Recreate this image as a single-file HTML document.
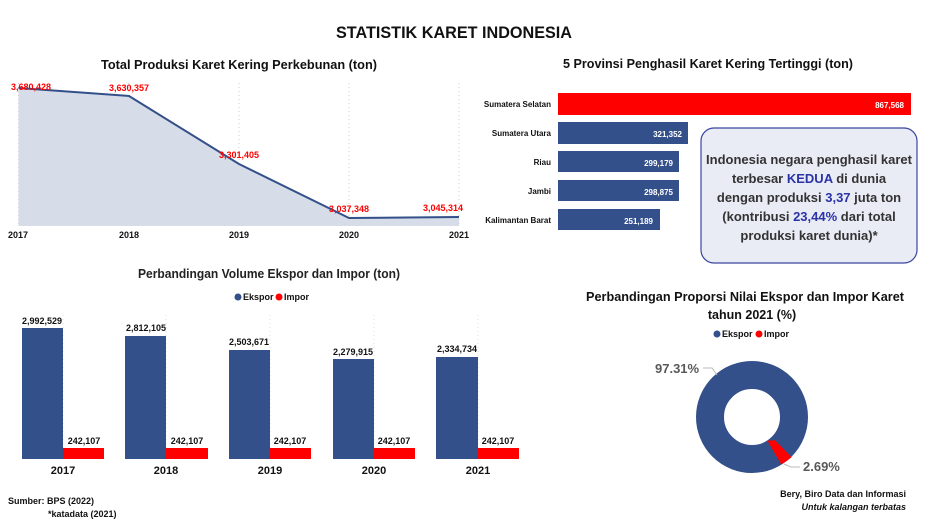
<!DOCTYPE html>
<html><head><meta charset="utf-8"><style>
body{margin:0;background:#fff;}
svg{display:block;font-family:"Liberation Sans",sans-serif;}
</style></head><body>
<svg width="940" height="530" viewBox="0 0 940 530" xmlns="http://www.w3.org/2000/svg">
<rect width="940" height="530" fill="#fff"/>
<text x="454" y="38" text-anchor="middle" font-size="17" font-weight="bold" fill="#111" textLength="236" lengthAdjust="spacingAndGlyphs">STATISTIK KARET INDONESIA</text>

<text x="239" y="69" text-anchor="middle" font-size="13" font-weight="bold" fill="#111" textLength="276" lengthAdjust="spacingAndGlyphs">Total Produksi Karet Kering Perkebunan (ton)</text>
<g stroke="#ccc" stroke-dasharray="1,3" stroke-width="1">
<line x1="18.5" y1="83" x2="18.5" y2="226"/><line x1="129" y1="83" x2="129" y2="226"/><line x1="239" y1="83" x2="239" y2="226"/><line x1="349" y1="83" x2="349" y2="226"/><line x1="459" y1="83" x2="459" y2="226"/>
</g>
<polygon points="18.5,88 129,96 239,164 349,218 459,217 459,226 18.5,226" fill="#d6dce8"/>
<polyline points="18.5,88 129,96 239,164 349,218 459,217" fill="none" stroke="#34508a" stroke-width="2"/>
<g font-size="9" fill="#f00" font-weight="bold" text-anchor="middle">
<text x="31" y="90">3,680,428</text><text x="129" y="91">3,630,357</text><text x="239" y="158">3,301,405</text><text x="349" y="212">3,037,348</text><text x="443" y="211">3,045,314</text>
</g>
<g font-size="9" fill="#111" font-weight="bold" text-anchor="middle">
<text x="18" y="238">2017</text><text x="129" y="238">2018</text><text x="239" y="238">2019</text><text x="349" y="238">2020</text><text x="459" y="238">2021</text>
</g>

<text x="708" y="68" text-anchor="middle" font-size="13" font-weight="bold" fill="#111" textLength="290" lengthAdjust="spacingAndGlyphs">5 Provinsi Penghasil Karet Kering Tertinggi (ton)</text>
<rect x="558" y="93" width="353" height="22" fill="#f00"/>
<rect x="558" y="122" width="130" height="22" fill="#34508a"/>
<rect x="558" y="151" width="121" height="21" fill="#34508a"/>
<rect x="558" y="180" width="121" height="21" fill="#34508a"/>
<rect x="558" y="209" width="102" height="21" fill="#34508a"/>
<g font-size="8" font-weight="bold" fill="#111" text-anchor="end">
<text x="551" y="107">Sumatera Selatan</text><text x="551" y="136">Sumatera Utara</text><text x="551" y="165">Riau</text><text x="551" y="194">Jambi</text><text x="551" y="223">Kalimantan Barat</text>
</g>
<g font-size="8" font-weight="bold" fill="#fff" text-anchor="end">
<text x="904" y="108">867,568</text><text x="682" y="137">321,352</text><text x="673" y="166">299,179</text><text x="673" y="195">298,875</text><text x="653" y="224">251,189</text>
</g>
<rect x="701" y="128" width="216" height="135" rx="13" fill="#e9ebf5" stroke="#3a46a0" stroke-width="1.2"/>
<g font-size="13" font-weight="bold" fill="#333" text-anchor="middle">
<text x="809" y="164">Indonesia negara penghasil karet</text>
<text x="809" y="183">terbesar <tspan fill="#2a33a8">KEDUA</tspan> di dunia</text>
<text x="809" y="202">dengan produksi <tspan fill="#2a33a8">3,37</tspan> juta ton</text>
<text x="809" y="221">(kontribusi <tspan fill="#2a33a8">23,44%</tspan> dari total</text>
<text x="809" y="240">produksi karet dunia)*</text>
</g>

<text x="269" y="278" text-anchor="middle" font-size="13" font-weight="bold" fill="#222" textLength="262" lengthAdjust="spacingAndGlyphs">Perbandingan Volume Ekspor dan Impor (ton)</text>
<circle cx="238" cy="297" r="3.5" fill="#34508a"/><text x="243" y="300" font-size="9" font-weight="bold" fill="#111">Ekspor</text>
<circle cx="279" cy="297" r="3.5" fill="#f00"/><text x="284" y="300" font-size="9" font-weight="bold" fill="#111">Impor</text>
<g stroke="#ddd" stroke-dasharray="1,3"><line x1="63" y1="315" x2="63" y2="459"/><line x1="166" y1="315" x2="166" y2="459"/><line x1="270" y1="315" x2="270" y2="459"/><line x1="374" y1="315" x2="374" y2="459"/><line x1="478" y1="315" x2="478" y2="459"/></g>
<g fill="#34508a">
<rect x="22" y="328" width="41" height="131"/><rect x="125" y="336" width="41" height="123"/><rect x="229" y="350" width="41" height="109"/><rect x="333" y="359" width="41" height="100"/><rect x="436" y="357" width="42" height="102"/>
</g>
<g fill="#f00">
<rect x="63" y="448" width="41" height="11"/><rect x="166" y="448" width="42" height="11"/><rect x="270" y="448" width="41" height="11"/><rect x="374" y="448" width="41" height="11"/><rect x="478" y="448" width="41" height="11"/>
</g>
<g font-size="9" font-weight="bold" fill="#111" text-anchor="middle">
<text x="42" y="324">2,992,529</text><text x="146" y="331">2,812,105</text><text x="249" y="345">2,503,671</text><text x="353" y="355">2,279,915</text><text x="457" y="352">2,334,734</text>
<text x="84" y="444">242,107</text><text x="187" y="444">242,107</text><text x="290" y="444">242,107</text><text x="394" y="444">242,107</text><text x="498" y="444">242,107</text>
</g>
<g font-size="11" font-weight="bold" fill="#111" text-anchor="middle">
<text x="63" y="474">2017</text><text x="166" y="474">2018</text><text x="270" y="474">2019</text><text x="374" y="474">2020</text><text x="478" y="474">2021</text>
</g>
<text x="8" y="504" font-size="9" font-weight="bold" fill="#111">Sumber: BPS (2022)</text>
<text x="48" y="517" font-size="9" font-weight="bold" fill="#111">*katadata (2021)</text>

<text x="745" y="301" text-anchor="middle" font-size="12.5" font-weight="bold" fill="#111" textLength="318" lengthAdjust="spacingAndGlyphs">Perbandingan Proporsi Nilai Ekspor dan Impor Karet</text>
<text x="752" y="319" text-anchor="middle" font-size="12.5" font-weight="bold" fill="#111">tahun 2021 (%)</text>
<circle cx="717" cy="334" r="3.5" fill="#34508a"/><text x="722" y="337" font-size="9" font-weight="bold" fill="#111">Ekspor</text>
<circle cx="759" cy="334" r="3.5" fill="#f00"/><text x="764" y="337" font-size="9" font-weight="bold" fill="#111">Impor</text>
<circle cx="752" cy="417" r="42" fill="none" stroke="#34508a" stroke-width="28"/>
<path d="M791.6,457.3 L774.9,440.1 A28,28 0 0 1 767.3,440.5 L781.2,464.4 A56,56 0 0 0 791.6,457.3 Z" fill="#f00"/>
<polyline points="703,368 712,368 717,375" fill="none" stroke="#bbb" stroke-width="1"/>
<polyline points="784,464 791,467 800,467" fill="none" stroke="#bbb" stroke-width="1"/>
<text x="655" y="373" font-size="13" font-weight="bold" fill="#595959">97.31%</text>
<text x="803" y="471" font-size="13" font-weight="bold" fill="#595959">2.69%</text>
<text x="906" y="497" text-anchor="end" font-size="9" font-weight="bold" fill="#111">Bery, Biro Data dan Informasi</text>
<text x="906" y="510" text-anchor="end" font-size="9" font-weight="bold" font-style="italic" fill="#111">Untuk kalangan terbatas</text>
</svg>
</body></html>
